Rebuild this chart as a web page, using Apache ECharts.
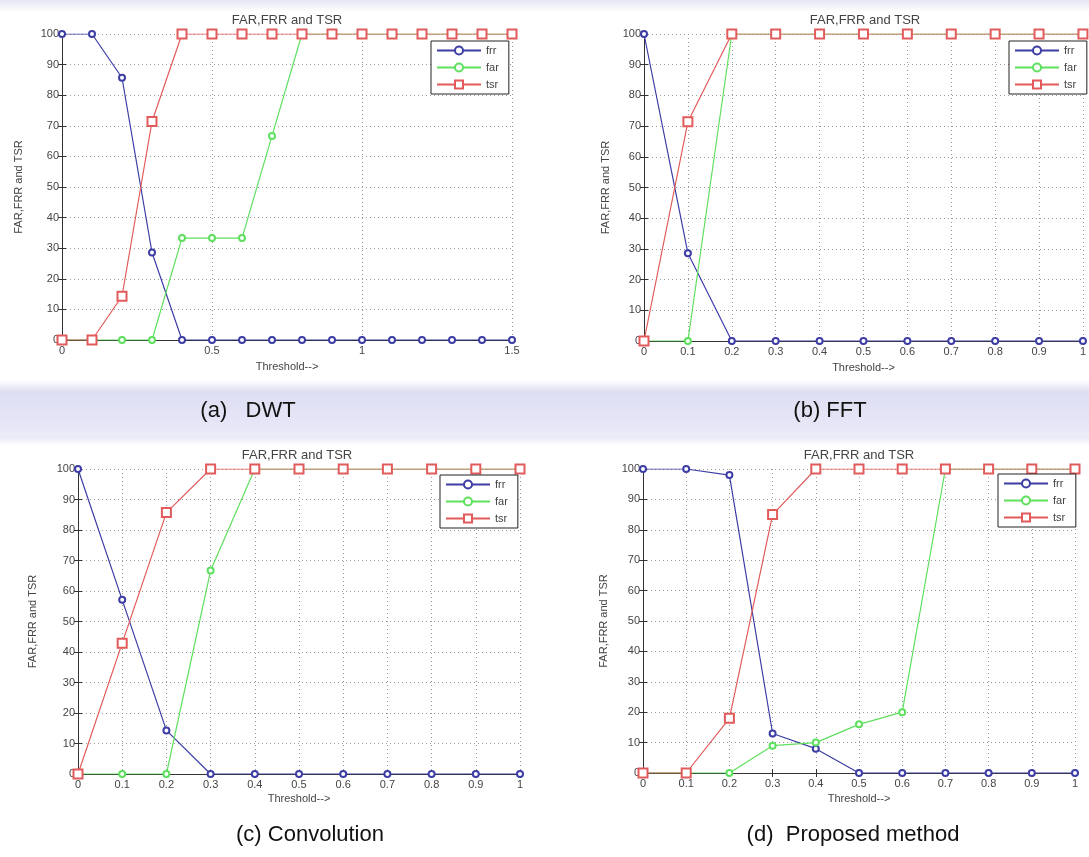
<!DOCTYPE html>
<html><head><meta charset="utf-8">
<script src="https://cdn.jsdelivr.net/npm/echarts@6/dist/echarts.min.js"></script>
<style>
html,body{margin:0;padding:0;width:1089px;height:857px;overflow:hidden;
background:linear-gradient(180deg,#e6e6f7 0px,#ffffff 12px,#ffffff 380px,#dedef3 392px,#e6e6f7 425px,#ececf9 438px,#ffffff 446px,#ffffff 100%);}
#c{width:1089px;height:857px}
</style></head><body><div id="c"></div>
<script>
// Thresholds (x values)
const thresholdsDWT = [0,0.1,0.2,0.3,0.4,0.5,0.6,0.7,0.8,0.9,1.0,1.1,1.2,1.3,1.4,1.5];
const thresholds = [0,0.1,0.2,0.3,0.4,0.5,0.6,0.7,0.8,0.9,1.0];

// (a) DWT
const dwtFrr = [100,100,85.7,28.6,0,0,0,0,0,0,0,0,0,0,0,0];
const dwtFar = [0,0,0,0,33.3,33.3,33.3,66.7,100,100,100,100,100,100,100,100];
const dwtTsr = [0,0,14.3,71.4,100,100,100,100,100,100,100,100,100,100,100,100];
// (b) FFT
const fftFrr = [100,28.6,0,0,0,0,0,0,0,0,0];
const fftFar = [0,0,100,100,100,100,100,100,100,100,100];
const fftTsr = [0,71.4,100,100,100,100,100,100,100,100,100];
// (c) Convolution
const convFrr = [100,57.1,14.3,0,0,0,0,0,0,0,0];
const convFar = [0,0,0,66.7,100,100,100,100,100,100,100];
const convTsr = [0,42.9,85.7,100,100,100,100,100,100,100,100];
// (d) Proposed method
const propFrr = [100,100,98,13,8,0,0,0,0,0,0];
const propFar = [0,0,0,9,10,16,20,100,100,100,100];
const propTsr = [0,0,18,85,100,100,100,100,100,100,100];

const seriesNames = ['frr','far','tsr'];
const plotTitle = 'FAR,FRR and TSR';
const xName = 'Threshold-->';
const yName = 'FAR,FRR and TSR';
const captions = ['(a)   DWT','(b) FFT','(c) Convolution','(d)  Proposed method'];

const colors = {frr:'#3d3da6', far:'#5ee05e', tsr:'#e25b5b'};
const symbols = {frr:'emptyCircle', far:'emptyCircle', tsr:'emptyRect'};
const symSizes = {frr:6, far:6, tsr:9};

const panels = [
  {xs: thresholdsDWT, data:[dwtFrr,dwtFar,dwtTsr], xmax:1.5, xint:0.5,
   grid:{left:62,top:34,width:450,height:306}, ygap:38, xgap:21,
   title:{x:287,y:14}, caption:{x:248,y:400}, legend:{left:431,top:41}},
  {xs: thresholds, data:[fftFrr,fftFar,fftTsr], xmax:1, xint:0.1,
   grid:{left:644,top:34,width:446,height:307}, ygap:33, xgap:21,
   title:{x:865,y:14}, caption:{x:830,y:400}, legend:{left:1009,top:41}},
  {xs: thresholds, data:[convFrr,convFar,convTsr], xmax:1, xint:0.1,
   grid:{left:78,top:469,width:442,height:305}, ygap:40, xgap:19,
   title:{x:297,y:449}, caption:{x:310,y:824}, legend:{left:440,top:475}},
  {xs: thresholds, data:[propFrr,propFar,propTsr], xmax:1, xint:0.1,
   grid:{left:643,top:469,width:432,height:304}, ygap:34, xgap:20,
   title:{x:859,y:449}, caption:{x:853,y:824}, legend:{left:998,top:474}}
];

const smallText = {fontFamily:'Liberation Sans, Arial, sans-serif', fontSize:11, color:'#444'};
const option = {animation:false, grid:[], xAxis:[], yAxis:[], series:[], title:[], legend:[]};

panels.forEach((p,i)=>{
  option.grid.push(Object.assign({containLabel:false, show:true, backgroundColor:'#ffffff', borderWidth:0}, p.grid));
  const axLine = {show:true, lineStyle:{color:'#333', width:1}};
  const tick = {show:true, inside:true, length:4, lineStyle:{color:'#333'}};
  option.xAxis.push({type:'value', gridIndex:i, min:0, max:p.xmax, interval:p.xint, position:'bottom',
    axisLine:axLine, axisTick:tick, axisLabel:Object.assign({margin:5}, smallText),
    splitLine:{show:true, lineStyle:{color:'#9a9a9a', type:[1,3], width:1}},
    name:xName, nameLocation:'middle', nameGap:p.xgap, nameTextStyle:smallText});
  option.xAxis.push({type:'value', gridIndex:i, min:0, max:p.xmax, interval:p.xint, position:'top',
    axisLine:axLine, axisTick:tick, axisLabel:{show:false}, splitLine:{show:false}});
  option.yAxis.push({type:'value', gridIndex:i, min:0, max:100, interval:10, position:'left',
    axisLine:axLine, axisTick:tick, axisLabel:Object.assign({margin:3}, smallText),
    splitLine:{show:true, lineStyle:{color:'#9a9a9a', type:[1,3], width:1}},
    name:yName, nameLocation:'middle', nameGap:p.ygap, nameTextStyle:smallText});
  option.yAxis.push({type:'value', gridIndex:i, min:0, max:100, interval:10, position:'right',
    axisLine:axLine, axisTick:tick, axisLabel:{show:false}, splitLine:{show:false}});
  seriesNames.forEach((n,k)=>{
    option.series.push({type:'line', name:n, xAxisIndex:2*i, yAxisIndex:2*i,
      data:p.xs.map((x,j)=>[x,p.data[k][j]]),
      symbol:symbols[n], symbolSize:symSizes[n], showAllSymbol:true,
      lineStyle:{color:colors[n], width:1.2}, itemStyle:{color:colors[n], borderColor:colors[n], borderWidth:1.2},
      emphasis:{disabled:true}});
  });
  option.title.push({text:plotTitle, left:p.title.x, top:p.title.y, textAlign:'center', padding:0,
    textStyle:{fontFamily:'Liberation Sans, Arial, sans-serif', fontSize:13, fontWeight:'normal', color:'#444'}});
  option.title.push({text:captions[i], left:p.caption.x, top:p.caption.y, textAlign:'center', padding:0,
    textStyle:{fontFamily:'Liberation Sans, Arial, sans-serif', fontSize:22, fontWeight:'normal', color:'#111'}});
  option.legend.push({data:seriesNames, orient:'vertical', left:p.legend.left, top:p.legend.top,
    backgroundColor:'#ffffff', borderColor:'#222', borderWidth:1, borderRadius:0, padding:[4,10,4,5],
    itemWidth:44, itemHeight:10, itemGap:6, selectedMode:false,
    textStyle:{fontFamily:'Liberation Sans, Arial, sans-serif', fontSize:11, color:'#444'}});
});

const chart = echarts.init(document.getElementById('c'), null, {renderer:'canvas'});
chart.setOption(option);
</script>
</body></html>
